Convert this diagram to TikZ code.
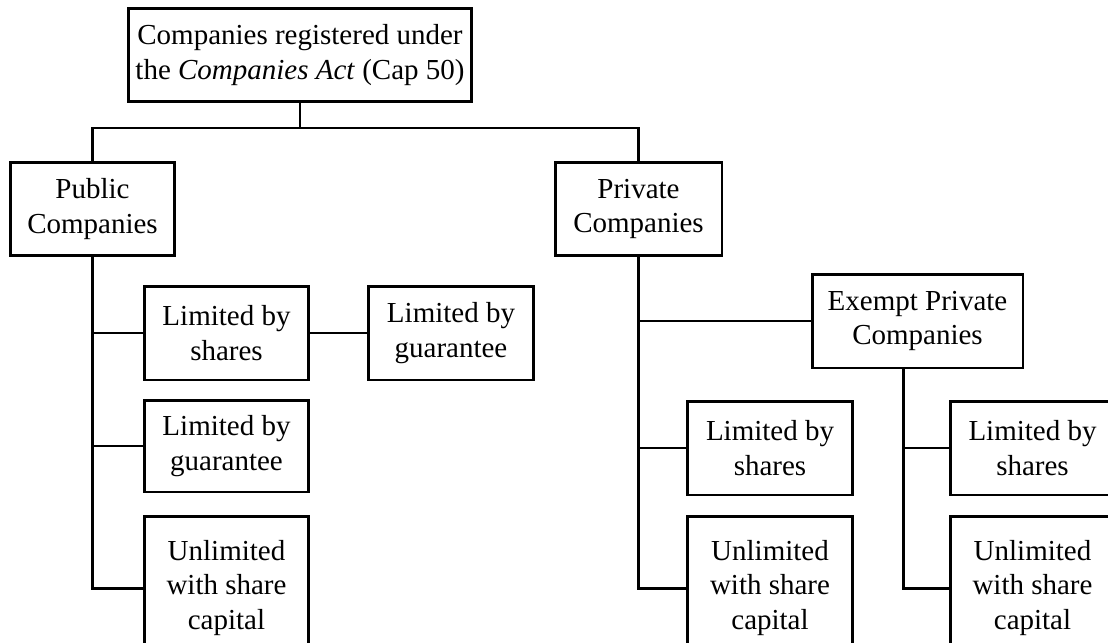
\documentclass[tikz,border=0pt]{standalone}
\usepackage{fontspec}
\setmainfont{Liberation Serif}
\usepackage{tikz}

\tikzset{
  box/.style={draw, line width=1.7pt, align=center, inner sep=0pt,
    minimum width=3.3cm, minimum height=1.88cm,
    font=\fontsize{16.5}{19.5}\selectfont},
  tallbox/.style={box, minimum height=2.86cm},
  link/.style={line width=1.7pt}
}

\begin{document}
\begin{tikzpicture}[x=0.02cm, y=-0.02cm]
\useasboundingbox (0,0) rectangle (1108,642);
\clip (0,0) rectangle (1108,642);

% top level
\node[box, minimum width=6.88cm] (top) at (300,55) {Companies registered under\\the \textit{Companies Act} (Cap 50)};
\node[box] (public) at (92.5,209) {Public\\Companies};
\node[box, minimum width=3.34cm] (private) at (638.5,209) {Private\\Companies};
\coordinate (bus) at (300,128);

% public companies
\node[box] (pubshares) at (226.5,333) {Limited by\\shares};
\node[box] (pubshguar) at (451,333) {Limited by\\guarantee};
\node[box, minimum height=1.84cm] (pubguar) at (226.5,446) {Limited by\\guarantee};
\node[tallbox] (pubunl) at (226.5,588) {Unlimited\\with share\\capital};

% private companies
\node[box, minimum width=4.22cm] (exempt) at (917.5,321) {Exempt Private\\Companies};
\node[box] (privshares) at (770,448) {Limited by\\shares};
\node[tallbox] (privunl) at (770,588) {Unlimited\\with share\\capital};
\node[box] (exshares) at (1032.5,448) {Limited by\\shares};
\node[tallbox] (exunl) at (1032.5,588) {Unlimited\\with share\\capital};
\coordinate (exstem) at ([xshift=-0.28cm]exempt.south);

% connectors
\draw[link] (top.south) -- (bus);
\draw[link] (public.north) |- (bus) -| (private.north);

\draw[link] (public.south) |- (pubunl.west);
\draw[link] (pubshares.west) -- (pubshares.west -| public.south);
\draw[link] (pubguar.west) -- (pubguar.west -| public.south);
\draw[link] (pubshares) -- (pubshguar);

\draw[link] (private.south) |- (privunl.west);
\draw[link] (exempt.west) -- (exempt.west -| private.south);
\draw[link] (privshares.west) -- (privshares.west -| private.south);

\draw[link] (exstem) |- (exunl.west);
\draw[link] (exshares.west) -- (exshares.west -| exstem);
\end{tikzpicture}
\end{document}
